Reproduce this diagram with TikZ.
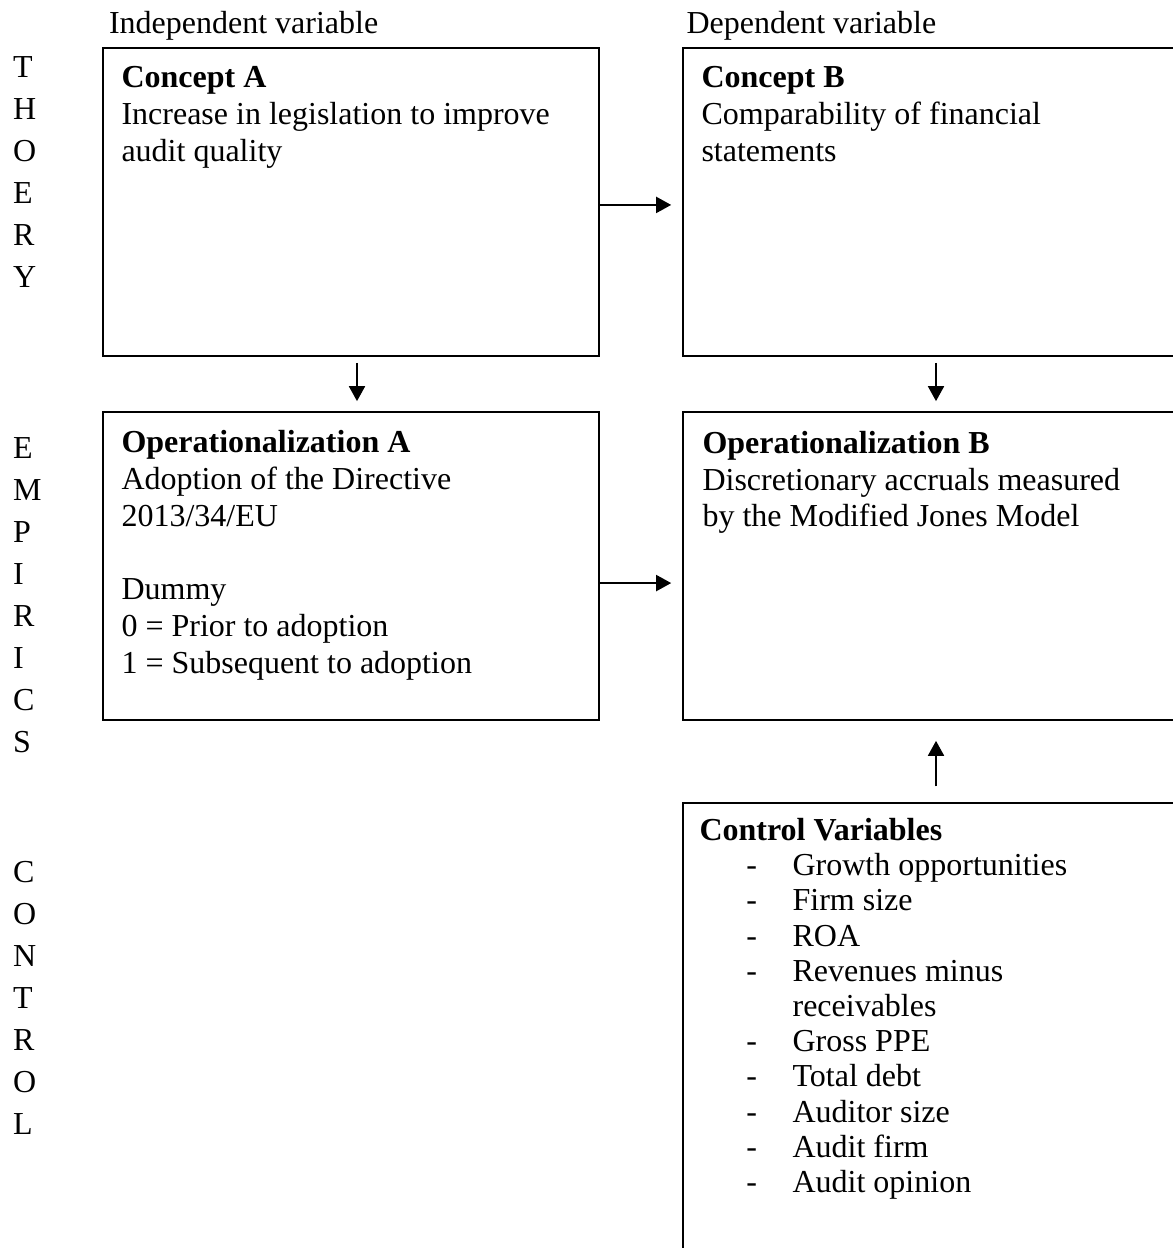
\documentclass[tikz,border=0pt]{standalone}
\usepackage{fontspec}
\setmainfont{Liberation Serif}
\usetikzlibrary{arrows.meta}
\begin{document}
\begin{tikzpicture}[x=0.375pt, y=-0.375pt,
  boxstyle/.style={draw=black, line width=0.65pt, rectangle, inner sep=0pt, minimum height=115.5pt},
  txt/.style={anchor=north west, inner sep=0pt, align=left, font=\fontsize{12}{13.8}\selectfont},
  ctxt/.style={anchor=north west, inner sep=0pt, align=left, font=\fontsize{12}{13.2}\selectfont},
  lett/.style={anchor=north west, inner sep=0pt, align=left, font=\fontsize{12}{15.75}\selectfont},
  head/.style={anchor=base west, inner sep=0pt, font=\fontsize{12}{13.8}\selectfont},
  arr/.style={draw=black, line width=0.65pt, -{Triangle[length=5.6pt,width=6pt]}}
]
\useasboundingbox (0,0) rectangle (1173,1248);
\clip (0,0) rectangle (1173,1248);

% headings
\node[head] (iv) at (108.5,34) {Independent variable};
\node[head] (dv) at (686,34) {Dependent variable};

% side letters
\node[lett] (theory) at (12.5,47.6) {\strut T\\H\\O\\E\\R\\Y};
\node[lett] (empirics) at (12.5,428.6) {\strut E\\M\\P\\I\\R\\I\\C\\S};
\node[lett] (control) at (12.5,852.6) {\strut C\\O\\N\\T\\R\\O\\L};

% boxes
\node[boxstyle, minimum width=186pt] (cA) at (351,202) {};
\node[boxstyle, minimum width=184.9pt] (cB) at (929.5,202) {};
\node[boxstyle, minimum width=186pt] (opA) at (351,566) {};
\node[boxstyle, minimum width=184.9pt] (opB) at (929.5,566) {};
\node[boxstyle, minimum width=184.9pt, minimum height=175pt] (ctrl) at (929.5,1036.5) {};

% box texts
\node[txt] (tA) at (121,61.5) {\strut\textbf{Concept A}\\Increase in legislation to improve\\audit quality};
\node[txt] (tB) at (701,61.5) {\strut\textbf{Concept B}\\Comparability of financial\\statements};
\node[txt] (tOA) at (121,426.2) {\strut\textbf{Operationalization A}\\Adoption of the Directive\\2013/34/EU\\[13.8pt]Dummy\\0 = Prior to adoption\\1 = Subsequent to adoption};
\node[txt] (tOB) at (702,427) {\strut\textbf{Operationalization B}\\Discretionary accruals measured\\by the Modified Jones Model};
\node[ctxt] (tC) at (699,815.4) {\strut\textbf{Control Variables}\\
\hspace*{17.6pt}\makebox[17.3pt][l]{-}Growth opportunities\\
\hspace*{17.6pt}\makebox[17.3pt][l]{-}Firm size\\
\hspace*{17.6pt}\makebox[17.3pt][l]{-}ROA\\
\hspace*{17.6pt}\makebox[17.3pt][l]{-}Revenues minus\\
\hspace*{34.9pt}receivables\\
\hspace*{17.6pt}\makebox[17.3pt][l]{-}Gross PPE\\
\hspace*{17.6pt}\makebox[17.3pt][l]{-}Total debt\\
\hspace*{17.6pt}\makebox[17.3pt][l]{-}Auditor size\\
\hspace*{17.6pt}\makebox[17.3pt][l]{-}Audit firm\\
\hspace*{17.6pt}\makebox[17.3pt][l]{-}Audit opinion};

% connectors
\draw[arr, shorten >=4.1pt] ([yshift=-1.1pt]cA.east) -- ([yshift=-1.1pt]cB.west);
\draw[arr, shorten >=4.1pt] ([yshift=-6.4pt]opA.east) -- ([yshift=-6.4pt]opB.west);
\draw[arr, shorten <=2.25pt, shorten >=3.75pt] ([xshift=2.25pt]cA.south) -- ([xshift=2.25pt]opA.north);
\draw[arr, shorten <=2.25pt, shorten >=3.75pt] ([xshift=2.44pt]cB.south) -- ([xshift=2.44pt]opB.north);
\draw[arr, shorten <=6pt, shorten >=7.5pt] ([xshift=2.44pt]ctrl.north) -- ([xshift=2.44pt]opB.south);
\end{tikzpicture}
\end{document}
